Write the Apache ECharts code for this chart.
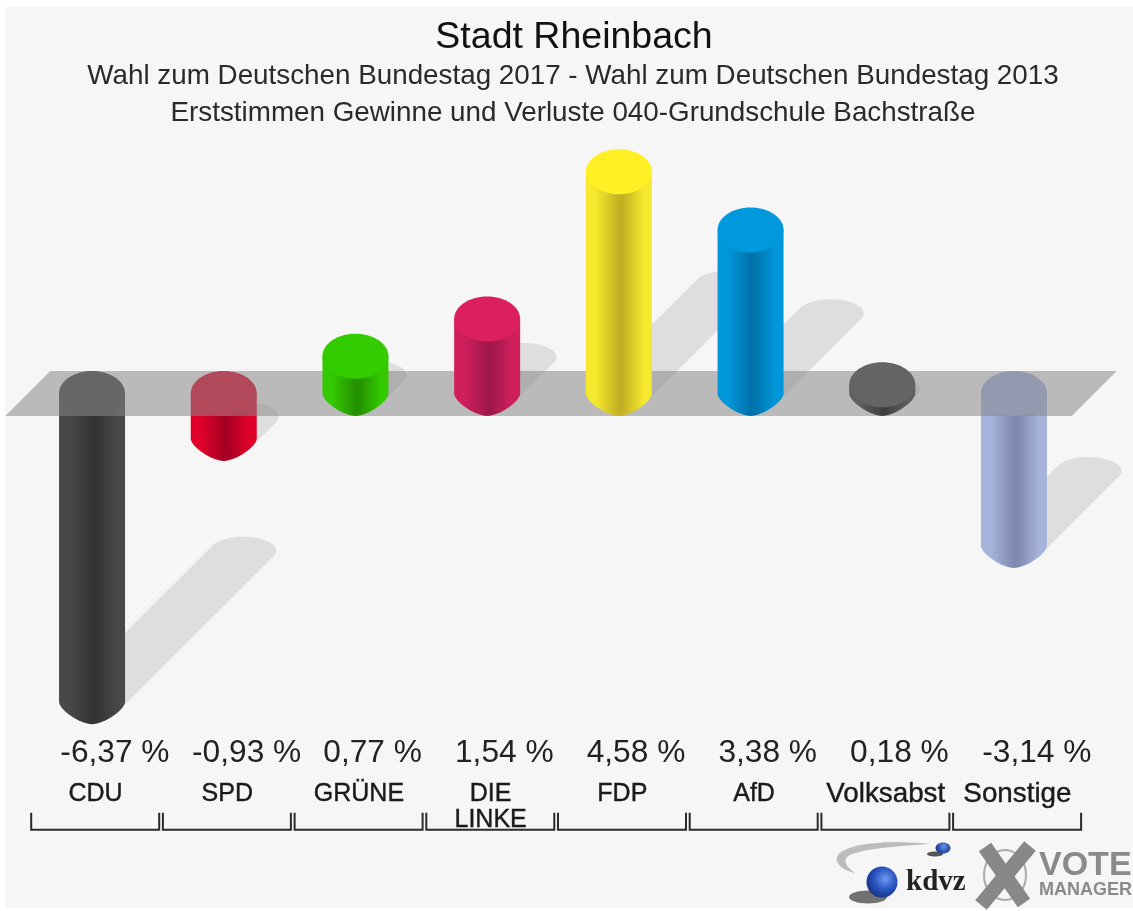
<!DOCTYPE html>
<html><head><meta charset="utf-8">
<style>html,body{margin:0;padding:0;background:#fff}#c{width:1133px;height:911px;filter:blur(0.6px)}</style>
<script src="https://cdn.jsdelivr.net/npm/echarts@6/dist/echarts.min.js"></script>
</head><body><div id="c"></div>
<script>
const categories = ['CDU','SPD','GRÜNE','DIE\nLINKE','FDP','AfD','Volksabst','Sonstige'];
const values = [-6.37,-0.93,0.77,1.54,4.58,3.38,0.18,-3.14];
const edgeColors = ['#484848','#e0002a','#33c800','#cf1f5c','#f6e82c','#0097da','#5e5e5e','#a6b4dc'];
const darkColors = ['#333333','#a80024','#259200','#a0174a','#c2b022','#0073ad','#404040','#8089b0'];
const capColors  = ['#414141','#e20027','#33cc00','#db1f5f','#fef025','#0099de','#646464','#a2aedd'];

const FONT = '"Liberation Sans",Arial,sans-serif';
const DEPTH = 45, RX_RATIO = 33/131.7, RY = DEPTH/2;
const items = values.map((v,i)=>[i,v]);
const chart = echarts.init(document.getElementById('c'));

function fmt(v){return v.toFixed(2).replace('.',',')+' %';}

function barShape(api){
  const i=api.value(0), v=api.value(1);
  const cx=api.coord([i,0])[0], y0=api.coord([i,0])[1], yv=api.coord([i,v])[1];
  const rx=api.size([1,0])[0]*RX_RATIO;
  const top=Math.min(y0,yv), bottom=Math.max(y0,yv)+DEPTH;
  const ty=top+RY, by=bottom-RY;
  const k=0.36;
  const path=`M${cx-rx} ${ty}L${cx-rx} ${by}C${cx-rx} ${by+RY*k} ${cx-rx*k} ${by+RY} ${cx} ${by+RY}C${cx+rx*k} ${by+RY} ${cx+rx} ${by+RY*k} ${cx+rx} ${by}L${cx+rx} ${ty}Z`;
  const grad={type:'linear',x:0,y:0,x2:1,y2:0,colorStops:[
    {offset:0,color:edgeColors[i]},{offset:.15,color:edgeColors[i]},
    {offset:.5,color:darkColors[i]},{offset:.56,color:darkColors[i]},
    {offset:.88,color:edgeColors[i]},{offset:1,color:edgeColors[i]}]};
  return {type:'group',children:[
    {type:'path',shape:{pathData:path,layout:'cover',x:cx-rx,y:ty,width:2*rx,height:by+RY-ty},style:{fill:grad}},
    {type:'ellipse',shape:{cx:cx,cy:ty,rx:rx,ry:RY},style:{fill:capColors[i]}}
  ]};
}
function renderShadow(params,api){
  const i=api.value(0), v=api.value(1);
  const cx=api.coord([i,0])[0], y0=api.coord([i,0])[1], yv=api.coord([i,v])[1];
  const h=Math.abs(yv-y0);
  const sy=(v<0?yv+DEPTH-RY:y0+RY);
  const a=api.size([1,0])[0]*33/131.7, b=14;
  const dx=h*0.49, dy=-h*0.49;
  const t1=Math.atan2(-b*dx, a*dy);
  const pts=[];
  for(let s=0;s<=24;s++){const t=t1+Math.PI*s/24;
    pts.push([a*Math.cos(t),b*Math.sin(t)]);}
  const end = (pts[12][0]*dx+pts[12][1]*dy>0) ? pts : pts.map(p=>[-p[0],-p[1]]);
  const poly=[];
  end.forEach(p=>poly.push([cx+dx+p[0],sy+dy+p[1]]));
  end.forEach(p=>poly.push([cx-p[0],sy-p[1]]));
  return {type:'polygon',shape:{points:poly},style:{fill:'#dedede'}};
}
function renderPlane(params,api){
  const cs=params.coordSys; const y=api.coord([0,0])[1];
  const lf=cs.x, rt=cs.x+cs.width;
  return {type:'polygon',shape:{points:[[lf-21,y+DEPTH],[lf+24,y],[rt+37,y],[rt-8,y+DEPTH]]},style:{fill:'rgba(134,134,134,0.54)'}};
}
function renderBracket(params,api){
  const i=api.value(0); const cs=params.coordSys;
  const w=api.size([1,0])[0]; const l=cs.x+i*w+5, r=l+w-3.7;
  const b=cs.y+cs.height+71.5, t=b-17;
  return {type:'polyline',shape:{points:[[l,t],[l,b],[r,b],[r,t]]},style:{fill:null,stroke:'#2b2b2b',lineWidth:2}};
}
function renderValue(params,api){
  const i=api.value(0), v=api.value(1);
  const p=api.coord([i,0]); const w=api.size([1,0])[0];
  return {type:'text',x:p[0]+(v<0?77.5:66.5)*w/131.7,y:params.coordSys.y+params.coordSys.height-5,
    style:{text:fmt(v),align:'right',verticalAlign:'middle',font:'31.7px '+FONT,fill:'#222'}};
}
function renderBarNeg(p,api){return api.value(1)<0?barShape(api):null;}
function renderBarPos(p,api){return api.value(1)>=0?barShape(api):null;}
function bez(p0,p1,p2,p3){const o=[];for(let s=0;s<=20;s++){const t=s/20,u=1-t;
  o.push([u*u*u*p0[0]+3*u*u*t*p1[0]+3*u*t*t*p2[0]+t*t*t*p3[0],u*u*u*p0[1]+3*u*u*t*p1[1]+3*u*t*t*p2[1]+t*t*t*p3[1]]);}return o;}
const swoosh=[].concat(bez([930,844],[885,839],[842,844],[837,857]),bez([837,857],[835,865],[845,871],[855,873]),bez([855,873],[845,866],[842,859],[850,855]),bez([850,855],[866,848],[900,846],[930,844]));

const option={
  animation:false,
  backgroundColor:'#ffffff',
  title:[
    {text:'Stadt Rheinbach',left:569,top:14,textAlign:'center',textStyle:{fontFamily:FONT,fontSize:37.5,fontWeight:'normal',color:'#111'}},
    {text:'Wahl zum Deutschen Bundestag 2017 - Wahl zum Deutschen Bundestag 2013',left:568,top:57,textAlign:'center',textStyle:{fontFamily:FONT,fontSize:27.8,fontWeight:'normal',color:'#2a2a2a'}},
    {text:'Erststimmen Gewinne und Verluste 040-Grundschule Bachstraße',left:568,top:94,textAlign:'center',textStyle:{fontFamily:FONT,fontSize:27.8,fontWeight:'normal',color:'#2a2a2a'}}
  ],
  grid:{left:26.2,top:32.2,width:1053.6,height:726,containLabel:false},
  xAxis:{type:'category',data:categories,axisLine:{show:false},axisTick:{show:false},
    axisLabel:{interval:0,margin:23,fontFamily:FONT,fontSize:25,lineHeight:26,color:'#1a1a1a',padding:[0,0,0,7],textBorderColor:'#1a1a1a',textBorderWidth:0.4,
      formatter:v=>/[a-z]{3}/.test(v)?'{w|'+v+'}':v,
      rich:{w:{fontFamily:FONT,fontSize:27.8,lineHeight:26,color:'#1a1a1a',textBorderColor:'#1a1a1a',textBorderWidth:0.4}}}},
  yAxis:{type:'value',min:-8,max:7,interval:1,show:false,splitLine:{show:false}},
  graphic:{elements:[
    {type:'rect',z:-10,shape:{x:5,y:7,width:1128,height:901},style:{fill:'#f6f6f6'},silent:true},
    {type:'polygon',shape:{points:swoosh},style:{fill:'#bcbcbc'}},
    {type:'ellipse',shape:{cx:935,cy:854,rx:8,ry:2.5},style:{fill:'#555'}},
    {type:'ellipse',shape:{cx:943,cy:848,rx:7.5,ry:5.5},style:{fill:{type:'radial',x:.55,y:.35,r:.7,colorStops:[{offset:0,color:'#6a93e8'},{offset:1,color:'#173a9a'}]}}},
    {type:'ellipse',shape:{cx:868,cy:897,rx:19,ry:6.5},style:{fill:'#3a3a3a',opacity:.7}},
    {type:'circle',shape:{cx:882,cy:882,r:15.5},style:{fill:{type:'radial',x:.6,y:.4,r:.7,colorStops:[{offset:0,color:'#6f9cf0'},{offset:.5,color:'#2a55c0'},{offset:1,color:'#12297c'}]}}},
    {type:'text',x:906,y:897,style:{text:'kdvz',align:'left',verticalAlign:'bottom',font:'bold 29px "Liberation Serif",serif',fill:'#222'}},
    {type:'ellipse',shape:{cx:1005,cy:875,rx:21,ry:25},style:{fill:null,stroke:'#aaaaaa',lineWidth:2}},
    {type:'line',shape:{x1:985,y1:847,x2:1024,y2:903},style:{stroke:'#888',lineWidth:15}},
    {type:'line',shape:{x1:1030,y1:846,x2:981,y2:905},style:{stroke:'#888',lineWidth:15}},
    {type:'text',x:1039,y:866,style:{text:'VOTE',align:'left',verticalAlign:'middle',font:'bold 34px '+FONT,fill:'#8a8a8a'}},
    {type:'text',x:1039,y:890,style:{text:'MANAGER',align:'left',verticalAlign:'middle',font:'bold 18px '+FONT,fill:'#8a8a8a'}}
  ]},
  series:[
    {type:'custom',z:1,data:items,renderItem:renderShadow,silent:true,clip:false},
    {type:'custom',z:2,data:items,renderItem:renderBarNeg,silent:true,clip:false},
    {type:'custom',z:3,data:[[0,0]],renderItem:renderPlane,silent:true,clip:false},
    {type:'custom',z:4,data:items,renderItem:renderBarPos,silent:true,clip:false},
    {type:'custom',z:5,data:items,renderItem:renderBracket,silent:true,clip:false},
    {type:'custom',z:5,data:items,renderItem:renderValue,silent:true,clip:false}
  ]
};
chart.setOption(option);
</script></body></html>
